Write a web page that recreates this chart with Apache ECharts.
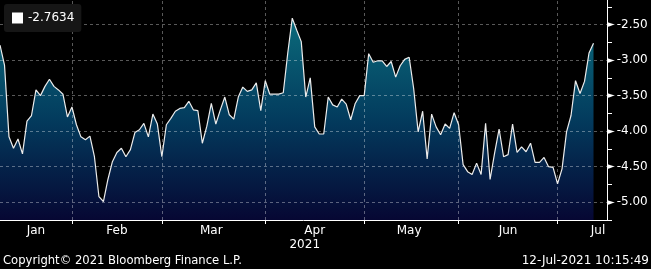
<!DOCTYPE html>
<html>
<head>
<meta charset="utf-8">
<script src="https://cdn.jsdelivr.net/npm/echarts@6/dist/echarts.min.js"></script>
<style>
html, body { margin: 0; padding: 0; background: #000; }
#main { width: 651px; height: 269px; }
</style>
</head>
<body>
<div id="main"></div>
<script>
// months on the axis and how many weekdays each one takes (Jul padded out to the right edge)
var monthNames = ['Jan', 'Feb', 'Mar', 'Apr', 'May', 'Jun', 'Jul'];
var monthDays = [16, 20, 23, 22, 21, 22, 12];
var yearLabel = '2021';
var lastValue = '-2.7634';

// daily values
var values = [
	-2.79, -3.07, -4.08, -4.24, -4.11, -4.32, -3.86, -3.78, -3.42, -3.50,
	-3.37, -3.27, -3.37, -3.42, -3.48, -3.80, -3.66, -3.91, -4.08, -4.12,
	-4.07, -4.36, -4.92, -4.99, -4.68, -4.43, -4.30, -4.24, -4.36, -4.26,
	-4.02, -3.98, -3.89, -4.08, -3.76, -3.90, -4.36, -3.91, -3.82, -3.72,
	-3.68, -3.67, -3.58, -3.70, -3.71, -4.17, -3.93, -3.61, -3.90, -3.70,
	-3.52, -3.77, -3.83, -3.52, -3.38, -3.44, -3.42, -3.32, -3.71, -3.29,
	-3.48, -3.48, -3.48, -3.46, -2.90, -2.41, -2.58, -2.74, -3.52, -3.25,
	-3.94, -4.04, -4.04, -3.52, -3.63, -3.66, -3.55, -3.62, -3.84, -3.61,
	-3.50, -3.50, -2.91, -3.03, -3.01, -3.01, -3.09, -3.02, -3.24, -3.08,
	-2.99, -2.96, -3.40, -4.01, -3.72, -4.39, -3.76, -3.94, -4.05, -3.90,
	-3.96, -3.74, -3.91, -4.47, -4.57, -4.61, -4.45, -4.61, -3.89, -4.68,
	-4.31, -3.97, -4.36, -4.33, -3.90, -4.30, -4.22, -4.29, -4.17, -4.44,
	-4.44, -4.37, -4.50, -4.51, -4.74, -4.53, -4.01, -3.78, -3.29, -3.47,
	-3.30, -2.90, -2.7634
];

var gridColor = 'rgba(255,255,255,0.35)';

// build the category list and where the month lines / labels go
var categories = [];
var monthStart = [];
var monthLabelAt = {};
var pos = 0;
for (var m = 0; m < monthNames.length; m++) {
	monthStart.push(pos);
	for (var d = 0; d < monthDays[m]; d++) {
		categories.push(monthNames[m] + ' ' + (d + 1));
	}
	var mid = pos + Math.floor(monthDays[m] / 2);
	if (m == monthNames.length - 1) mid = pos + monthDays[m] - 3; // Jul sits against the edge
	monthLabelAt[mid] = monthNames[m];
	pos += monthDays[m];
}

function isMonthStart(index) {
	return index > 0 && monthStart.indexOf(index) >= 0;
}

var chart = echarts.init(document.getElementById('main'));

var option = {
	backgroundColor: '#000',
	animation: false,
	textStyle: { fontFamily: 'DejaVu Sans' },
	grid: { left: 0, right: 44, top: -11, bottom: 49, containLabel: false, outerBoundsMode: 'none' },
	legend: {
		left: 4,
		top: 4,
		padding: [8, 7, 8, 8],
		backgroundColor: '#161616',
		borderRadius: 3,
		itemWidth: 11,
		itemHeight: 11,
		itemGap: 0,
		data: [{ name: lastValue, icon: 'rect' }],
		itemStyle: { color: '#fff' },
		textStyle: { color: '#fff', fontSize: 12, fontFamily: 'DejaVu Sans' }
	},
	xAxis: {
		type: 'category',
		data: categories,
		boundaryGap: false,
		z: 2,
		axisLine: { lineStyle: { color: '#fff', width: 1 } },
		axisTick: { interval: isMonthStart, length: 4, lineStyle: { color: '#fff' } },
		axisLabel: {
			interval: function (index) { return monthLabelAt[index] !== undefined; },
			formatter: function (value, index) {
				var name = monthLabelAt[index];
				if (name == 'Apr') return '{m|' + name + '}\n{y|' + yearLabel + '}';
				return name;
			},
			color: '#fff',
			fontSize: 12,
			margin: 4,
			lineHeight: 14,
			rich: {
				m: { color: '#fff', fontSize: 12, align: 'center', lineHeight: 14 },
				y: { color: '#fff', fontSize: 12, align: 'center', lineHeight: 14, padding: [0, 20, 0, 0] }
			}
		},
		splitLine: { show: true, interval: isMonthStart, lineStyle: { color: gridColor, type: [3, 3] } }
	},
	yAxis: {
		type: 'value',
		position: 'right',
		min: -5.25,
		max: -2.0,
		interval: 0.25,
		z: 2,
		axisLine: { show: true, lineStyle: { color: '#fff' } },
		axisTick: { show: true, length: 5, lineStyle: { color: '#fff' } },
		axisLabel: {
			margin: 0,
			color: '#fff',
			fontSize: 12,
			formatter: function (v) {
				if (Math.abs(Math.round(v * 4)) % 2 != 0) return '';
				if (v > -2.25) return '';
				return '{t|\u25BA}' + v.toFixed(2);
			},
			rich: { t: { color: '#fff', fontSize: 10, padding: [0, 2, 0, 0] } }
		},
		splitLine: { show: true, lineStyle: { color: ['rgba(0,0,0,0)', gridColor], type: [3, 3] } }
	},
	graphic: [
		{ type: 'text', left: 3, top: 255, style: { text: 'Copyright\u00A9 2021 Bloomberg Finance L.P.', fill: '#fff', font: '11.6px "DejaVu Sans"' } },
		{ type: 'text', right: 2, top: 255, style: { text: '12-Jul-2021 10:15:49', fill: '#fff', font: '12px "DejaVu Sans"' } }
	],
	series: [{
		name: 'area',
		type: 'line',
		data: values,
		z: 1,
		showSymbol: false,
		lineStyle: { width: 0 },
		areaStyle: {
			origin: 'start',
			opacity: 1,
			color: new echarts.graphic.LinearGradient(0, 15, 0, 220, [
				{ offset: 0, color: '#0b6c7c' },
				{ offset: 0.5, color: '#033c5e' },
				{ offset: 1, color: '#060733' }
			], true)
		}
	}, {
		name: lastValue,
		type: 'line',
		data: values,
		z: 3,
		showSymbol: false,
		lineStyle: { color: '#ececec', width: 1.2 }
	}]
};

chart.setOption(option);
</script>
</body>
</html>
